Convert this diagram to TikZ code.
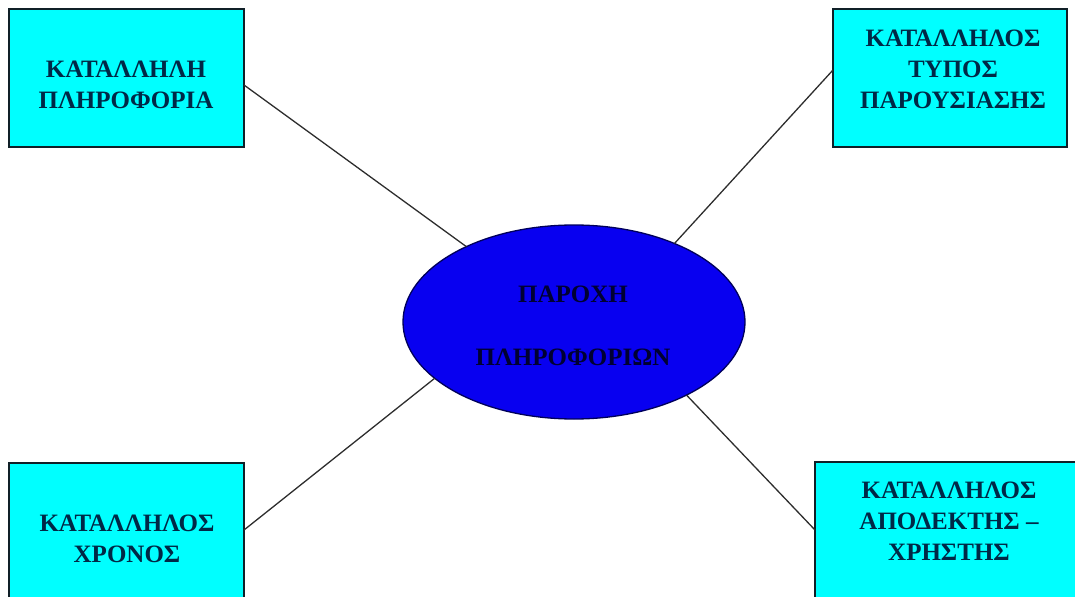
\documentclass[tikz,border=0pt]{standalone}
\usepackage{fontspec}
\setmainfont{Liberation Serif}
\usepackage{tikz}
\usetikzlibrary{shapes.geometric}
\definecolor{pdfcolor1}{RGB}{0,255,255}
\definecolor{pdfcolor2}{RGB}{8,0,240}
\definecolor{pdfcolor3}{RGB}{16,32,40}
\definecolor{pdfcolor4}{RGB}{0,40,70}
\definecolor{pdfcolor5}{RGB}{45,45,45}
\definecolor{pdfcolor6}{RGB}{0,0,50}
\definecolor{pdfcolor7}{RGB}{0,0,90}

\begin{document}
\begin{tikzpicture}[x=1bp,y=-1bp,inner sep=0pt,outer sep=0pt,
  box/.style={draw=pdfcolor3,line width=1.5bp,fill=pdfcolor1,anchor=north west},
  boxtext/.style={align=center,text=pdfcolor4,font=\fontsize{25bp}{31bp}\selectfont\bfseries},
  link/.style={draw=pdfcolor5,line width=1.3bp}]
  \useasboundingbox (0,0) rectangle (1075,597);
  % boxes
  \node[box,minimum width=235bp,minimum height=138bp] (info) at (9,9) {};
  \node[box,minimum width=234bp,minimum height=138bp] (type) at (833,9) {};
  \node[box,minimum width=235bp,minimum height=157bp] (time) at (9,463) {};
  \node[box,minimum width=280bp,minimum height=158bp] (user) at (815,462) {};
  \node[boxtext] (infotext) at (126,85) {ΚΑΤΑΛΛΗΛΗ\\ΠΛΗΡΟΦΟΡΙΑ};
  \node[boxtext] (typetext) at (953,69) {ΚΑΤΑΛΛΗΛΟΣ\\ΤΥΠΟΣ\\ΠΑΡΟΥΣΙΑΣΗΣ};
  \node[boxtext] (timetext) at (127,539) {ΚΑΤΑΛΛΗΛΟΣ\\ΧΡΟΝΟΣ};
  \node[boxtext] (usertext) at (949,521) {ΚΑΤΑΛΛΗΛΟΣ\\ΑΠΟΔΕΚΤΗΣ –\\ΧΡΗΣΤΗΣ};
  % centre
  \node[ellipse,draw=pdfcolor7,line width=1.3bp,fill=pdfcolor2,minimum width=342bp,minimum height=194bp] (supply) at (574,322) {};
  \node[align=center,text=pdfcolor6,font=\fontsize{25bp}{63bp}\selectfont\bfseries] (supplytext) at (573,326) {ΠΑΡΟΧΗ\\ΠΛΗΡΟΦΟΡΙΩΝ};
  % links
  \draw[link] ([yshift=-7bp]info.east) -- (supply.145.7);
  \draw[link] ([yshift=8bp]type.west) -- (supply.38.8);
  \draw[link] ([yshift=11.5bp]time.east) -- (supply.202.6);
  \draw[link] ([yshift=11bp]user.west) -- (supply.327.2);
\end{tikzpicture}
\end{document}
